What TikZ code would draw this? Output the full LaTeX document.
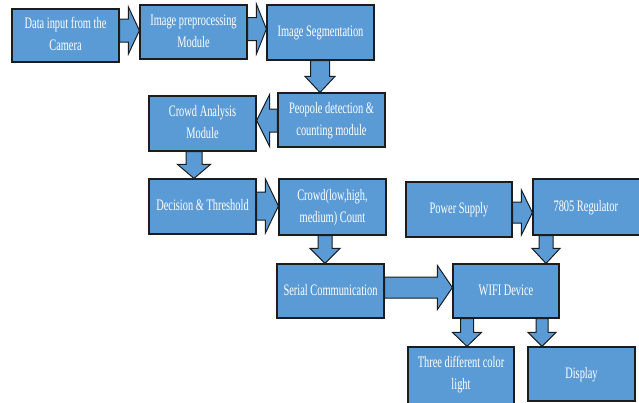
\documentclass[tikz,border=0pt]{standalone}
\usepackage{fontspec}
\setmainfont{Liberation Serif}
\usetikzlibrary{calc}
\definecolor{boxblue}{HTML}{5B9BD5}
\definecolor{edge}{HTML}{1C1C1C}
\newcommand\lbl[1]{\scalebox{0.65}[1]{\fontsize{16}{22}\selectfont\begin{tabular}{@{}c@{}}#1\end{tabular}}}
\newcommand\bx[6]{\node[box, minimum width={(#4-#2)*1pt}, minimum height={(#5-#3)*1pt}] (#1) at ({(#2+#4)/2},{-(#3+#5)/2}) {\lbl{#6}};}
% right arrow: from, to, y, shaft half, head half, head length
\newcommand\rarr[6]{\draw[barrow] let \p1=(#1.east), \p2=(#2.west) in
 ({\x1},{-#3+#4}) -- ({\x2-#6},{-#3+#4}) -- ({\x2-#6},{-#3+#5}) -- ({\x2},{-#3}) -- ({\x2-#6},{-#3-#5}) -- ({\x2-#6},{-#3-#4}) -- ({\x1},{-#3-#4}) -- cycle;}
\newcommand\larr[6]{\draw[barrow] let \p1=(#1.west), \p2=(#2.east) in
 ({\x1},{-#3+#4}) -- ({\x2+#6},{-#3+#4}) -- ({\x2+#6},{-#3+#5}) -- ({\x2},{-#3}) -- ({\x2+#6},{-#3-#5}) -- ({\x2+#6},{-#3-#4}) -- ({\x1},{-#3-#4}) -- cycle;}
% down arrow: from, to, x, shaft half, head half, head length
\newcommand\darr[6]{\draw[barrow] let \p1=(#1.south), \p2=(#2.north) in
 ({#3-#4},{\y1}) -- ({#3-#4},{\y2+#6}) -- ({#3-#5},{\y2+#6}) -- ({#3},{\y2}) -- ({#3+#5},{\y2+#6}) -- ({#3+#4},{\y2+#6}) -- ({#3+#4},{\y1}) -- cycle;}
\begin{document}
\begin{tikzpicture}[x=1pt,y=1pt,
  box/.style={draw=edge, line width=1.2pt, fill=boxblue, text=white, inner sep=0pt, rectangle},
  barrow/.style={draw=edge, line width=1pt, fill=boxblue, line join=miter}]
\clip (0,0) rectangle (639,-402);
\fill[white] (0,0) rectangle (639,-402);
\bx{cam}{12}{9}{119}{62}{Data input from the\\Camera}
\bx{pre}{140}{5}{247}{59}{Image preprocessing\\Module}
\bx{seg}{267}{5}{374}{60}{Image Segmentation}
\bx{det}{278}{93}{385}{147}{Peopole detection \&\\counting module}
\bx{ana}{149}{96}{256}{151}{Crowd Analysis\\Module}
\bx{dec}{149}{179}{256}{234}{Decision \& Threshold}
\bx{cnt}{279}{179}{386}{235}{Crowd(low,high,\\medium) Count}
\bx{ser}{277}{264}{384}{318}{Serial Communication}
\bx{pow}{406}{182}{512}{237}{Power Supply}
\bx{reg}{533}{179}{645}{235}{\hspace*{-10pt}7805 Regulator}
\bx{wifi}{453}{264}{559}{318}{WIFI Device}
\bx{lite}{408}{347}{514}{410}{Three different color\\light\\[8pt]}
\bx{disp}{528}{347}{635}{401}{Display}
\rarr{cam}{pre}{30.5}{11.5}{23.5}{11}
\rarr{pre}{seg}{29}{11.5}{25}{10}
\darr{seg}{det}{320}{9.5}{15}{16}
\larr{det}{ana}{120.5}{11.5}{26}{13}
\darr{ana}{dec}{194}{8}{16.5}{14}
\rarr{dec}{cnt}{206}{14}{27}{13}
\darr{cnt}{ser}{325}{7}{15}{15}
\rarr{ser}{wifi}{287.5}{10.5}{22}{15}
\rarr{pow}{reg}{212.5}{10.5}{22.5}{11}
\darr{reg}{wifi}{546}{7}{14}{15}
\darr{wifi}{lite}{467}{6.5}{14.5}{14}
\darr{wifi}{disp}{542}{6}{14}{14}
\end{tikzpicture}
\end{document}
